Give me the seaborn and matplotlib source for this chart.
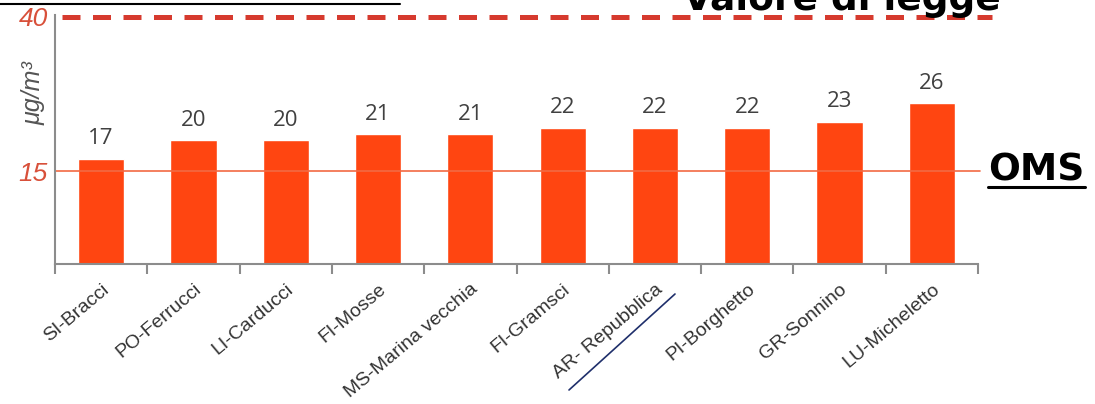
import numpy as np
import pandas as pd
import matplotlib
matplotlib.use("Agg")
import matplotlib.pyplot as plt
from matplotlib.lines import Line2D
import seaborn as sns

# stations and annual mean values (ug/m3)
stations = ["SI-Bracci", "PO-Ferrucci", "LI-Carducci", "FI-Mosse", "MS-Marina vecchia",
            "FI-Gramsci", "AR- Repubblica", "PI-Borghetto", "GR-Sonnino", "LU-Micheletto"]
values = [17, 20, 20, 21, 21, 22, 22, 22, 23, 26]

# reference thresholds
limite_legge = 40
limite_oms = 15
ytick_vals = [15, 40]

df = pd.DataFrame({"stazione": stations, "valore": values})

sns.set_style("white")
plt.rcParams["font.family"] = ["Liberation Sans", "DejaVu Sans"]

fig = plt.figure(figsize=(10.95, 4.04), dpi=100)
ax = fig.add_axes([55 / 1095, (404 - 264) / 404, 923 / 1095, 249 / 404])

sns.barplot(data=df, x="stazione", y="valore", color="#FF4511", saturation=1,
            width=0.5, ax=ax)
ax.set_xlim(-0.5, len(stations) - 0.5)
ax.set_ylim(0, 40.3)

# value labels above the bars
ax.bar_label(ax.containers[0], labels=[str(v) for v in values], padding=7,
             fontsize=16, color="#404040", family="Open Sans")

# threshold lines
ax.axhline(limite_oms, xmin=0, xmax=1.002, color="#F26A43", lw=1.2, clip_on=False, zorder=1)
ax.axhline(limite_legge, xmin=0.008, xmax=1.015, color="#D63A2E", lw=3.6,
           linestyle=(0, (3.6, 2.5)), clip_on=False, zorder=1)

# axes styling
sns.despine(ax=ax)
for s in ["left", "bottom"]:
    ax.spines[s].set_color("#8c8c8c")
    ax.spines[s].set_linewidth(1.5)

ax.set_yticks(ytick_vals)
ax.set_yticklabels([str(v) for v in ytick_vals], fontsize=19, style="italic", color="#D8503A")
ax.tick_params(axis="y", length=0, pad=5)

ax.set_xticks(range(len(stations)))
ax.set_xticklabels(stations, rotation=40, ha="right", rotation_mode="anchor",
                   fontsize=14, color="#333333")
ax.set_xticks(np.arange(-0.5, len(stations)), minor=True)
ax.tick_params(axis="x", which="major", length=0, pad=12)
ax.tick_params(axis="x", which="minor", bottom=True, length=7, width=1.5,
               color="#8c8c8c", direction="out")
ax.set_xlabel("")
ax.set_ylabel("")

# unit label
fig.text(34 / 1095, 1 - 93 / 404, "μg/m³", rotation=90, style="italic", fontsize=18,
         color="#555555", ha="center", va="center")

# annotations
fig.text(683 / 1095, 1 - 10 / 404, "Valore di legge", fontsize=27, fontweight="bold",
         family="DejaVu Sans", color="black", ha="left", va="baseline")
fig.text(988 / 1095, 1 - 181 / 404, "OMS", fontsize=27, fontweight="bold",
         family="DejaVu Sans", color="black", ha="left", va="baseline")
fig.add_artist(Line2D([988 / 1095, 1085 / 1095], [1 - 186.5 / 404, 1 - 186.5 / 404],
                      color="black", lw=2.2, transform=fig.transFigure))
fig.add_artist(Line2D([0, 400 / 1095], [1 - 4 / 404, 1 - 4 / 404],
                      color="black", lw=1.5, transform=fig.transFigure))
fig.add_artist(Line2D([569 / 1095, 675 / 1095], [1 - 390 / 404, 1 - 294 / 404],
                      color="#1F2F6B", lw=1.2, transform=fig.transFigure))

fig.savefig("out.png", dpi=100)
